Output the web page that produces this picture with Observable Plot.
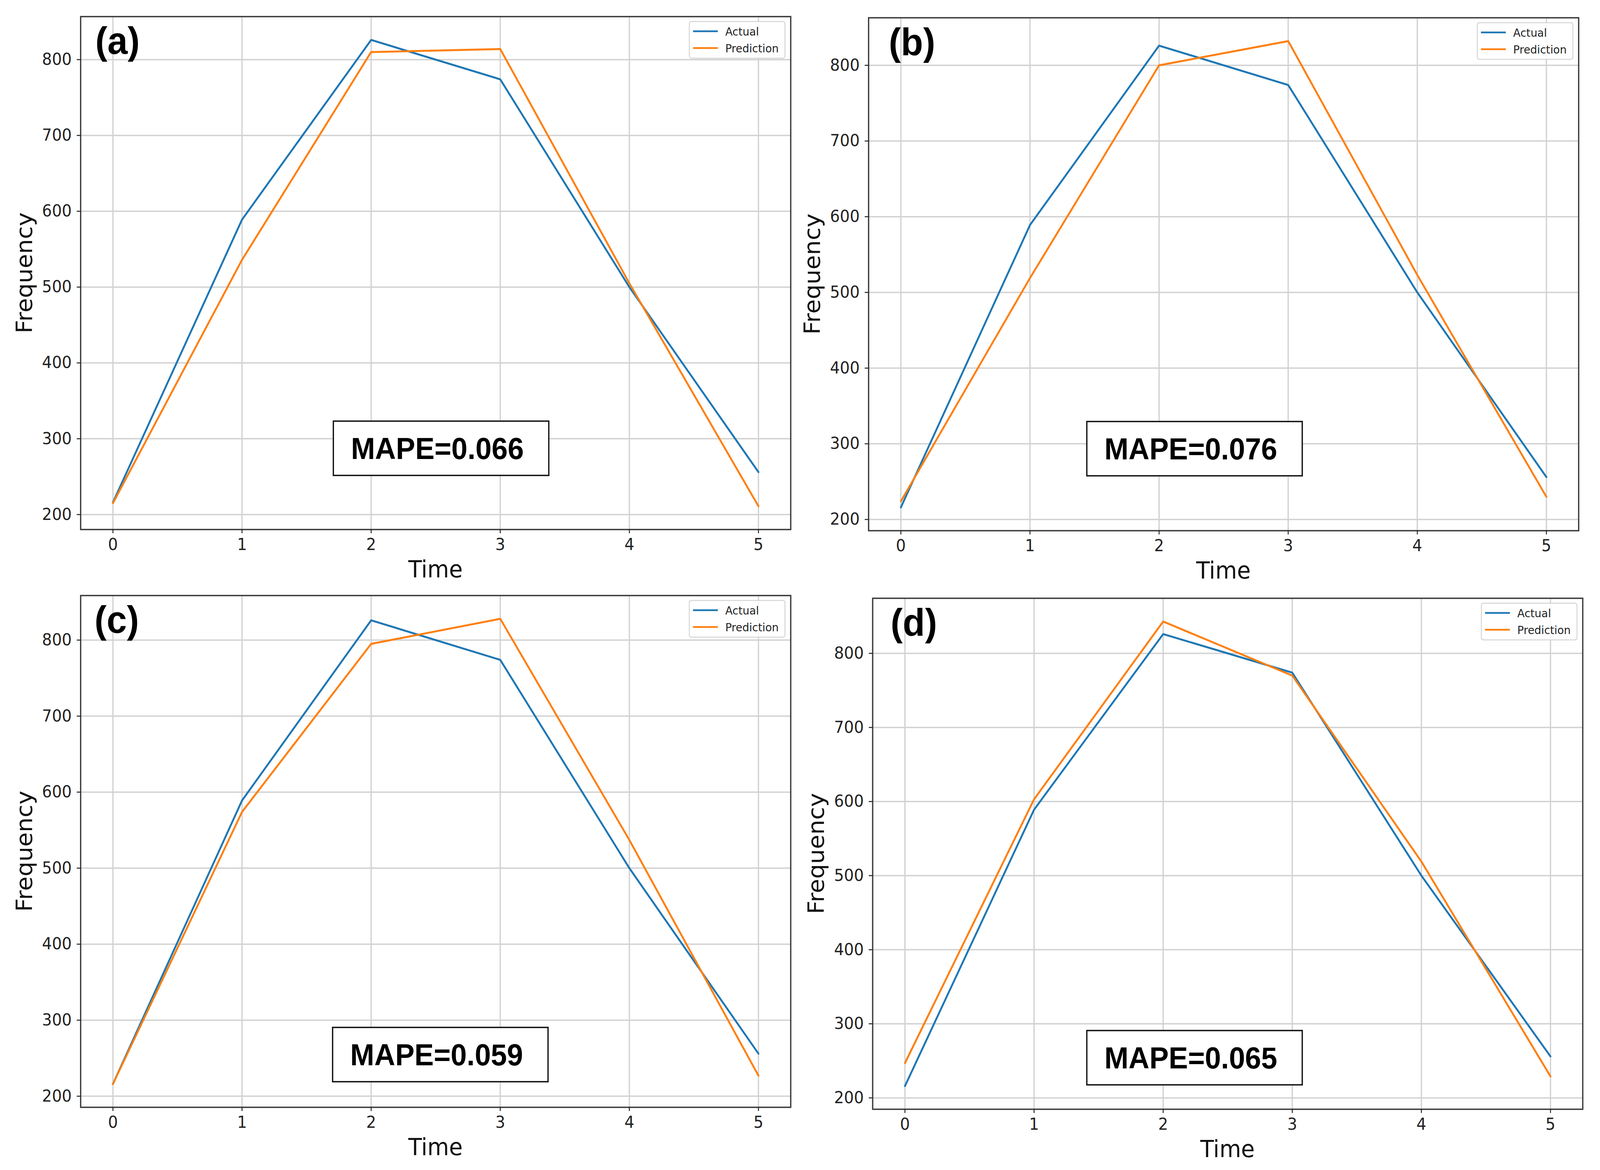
<!DOCTYPE html>
<html><head><meta charset="utf-8">
<script src="https://cdn.jsdelivr.net/npm/d3@7"></script>
<script src="https://cdn.jsdelivr.net/npm/@observablehq/plot@0.6"></script>
<style>
html,body{margin:0;padding:0;background:#fff;overflow:hidden;}
#wrap{position:absolute;left:0;top:0;width:4315px;height:2995px;background:#fff;overflow:hidden;transform-origin:0 0;}
.panel{position:absolute;}
</style></head><body><div id="wrap"></div>
<script>
// ---- data ----
const time = [0, 1, 2, 3, 4, 5];
const actual = [216, 589, 826, 774, 500, 256];
const predA = [215, 536, 810, 814, 505, 211];
const predB = [224, 519, 800, 832, 523, 230];
const predC = [216, 574, 795, 828, 537, 227];
const predD = [247, 603, 843, 770, 519, 229];
const panelLabels = ["(a)", "(b)", "(c)", "(d)"];
const mapeLabels = ["MAPE=0.066", "MAPE=0.076", "MAPE=0.059", "MAPE=0.065"];
const seriesNames = ["Actual", "Prediction"];
const xTicks = [0, 1, 2, 3, 4, 5];
const yTicks = [200, 300, 400, 500, 600, 700, 800];
const xLabel = "Time";
const yLabel = "Frequency";

const preds = [predA, predB, predC, predD];
const colors = ["#1f77b4", "#ff7f0e"];

// ---- layout (page pixels) ----
const layout = [
  {left: 0,    top: 0,    width: 2160, height: 1495, mL: 217, mR: 28, mT: 42, mB: 140, tagDx: 40, boxDx: 682, boxDy: 1036},
  {left: 2160, top: 0,    width: 2155, height: 1495, mL: 182, mR: 58, mT: 45, mB: 137, tagDx: 55, boxDx: 589, boxDy: 1034},
  {left: 0,    top: 1495, width: 2160, height: 1500, mL: 217, mR: 28, mT: 29, mB: 161, tagDx: 38, boxDx: 680, boxDy: 1106},
  {left: 2160, top: 1495, width: 2155, height: 1500, mL: 193, mR: 47, mT: 36, mB: 156, tagDx: 49, boxDx: 578, boxDy: 1107}
];

const wrap = document.getElementById("wrap");

function fit() {
  const vw = document.documentElement.clientWidth || window.innerWidth || 4315;
  const vh = document.documentElement.clientHeight || window.innerHeight || 2995;
  const sx = vw / 4315, sy = vh / 2995;
  wrap.style.transform = `scale(${sx}, ${sy})`;
}

function makePanel(i) {
  const L = layout[i];
  const pred = preds[i];
  const actRows = time.map((t, k) => ({t, v: actual[k]}));
  const predRows = time.map((t, k) => ({t, v: pred[k]}));
  const all = actual.concat(pred);
  const lo = d3.min(all), hi = d3.max(all), pad = (hi - lo) * 0.05;

  const chart = Plot.plot({
    width: L.width, height: L.height,
    marginLeft: L.mL, marginRight: L.mR, marginTop: L.mT, marginBottom: L.mB,
    style: {fontFamily: "DejaVu Sans", fontSize: "42px", color: "#222", background: "white", overflow: "visible", maxWidth: "none"},
    x: {domain: [-0.25, 5.25]},
    y: {domain: [lo - pad, hi + pad]},
    marks: [
      Plot.gridX(xTicks, {stroke: "#d2d2d2", strokeOpacity: 1, strokeWidth: 3.5}),
      Plot.gridY(yTicks, {stroke: "#d2d2d2", strokeOpacity: 1, strokeWidth: 3.5}),
      Plot.line(actRows, {x: "t", y: "v", stroke: colors[0], strokeWidth: 5}),
      Plot.line(predRows, {x: "t", y: "v", stroke: colors[1], strokeWidth: 5}),
      Plot.frame({stroke: "#3a3a3a", strokeWidth: 3.5}),
      Plot.axisX(xTicks, {tickSize: 10, tickPadding: 13, label: null, strokeWidth: 2.5, fontSize: 42, tickFormat: d3.format("d")}),
      Plot.axisY(yTicks, {tickSize: 10, tickPadding: 14, label: null, strokeWidth: 2.5, fontSize: 42, tickFormat: d3.format("d")})
    ]
  });

  const div = document.createElement("div");
  div.className = "panel";
  div.style.left = L.left + "px";
  div.style.top = L.top + "px";
  div.style.width = L.width + "px";
  div.style.height = L.height + "px";
  div.appendChild(chart);
  wrap.appendChild(div);

  const svg = d3.select(chart);
  const fx0 = L.mL, fx1 = L.width - L.mR, fy0 = L.mT, fy1 = L.height - L.mB;

  // axis titles
  svg.append("text")
    .attr("x", (fx0 + fx1) / 2).attr("y", fy1 + 123)
    .attr("text-anchor", "middle")
    .attr("font-family", "DejaVu Sans").attr("font-size", 60).attr("fill", "#111")
    .text(xLabel);
  svg.append("text")
    .attr("transform", `translate(${fx0 - 131},${(fy0 + fy1) / 2}) rotate(-90)`)
    .attr("text-anchor", "middle")
    .attr("font-family", "DejaVu Sans").attr("font-size", 60).attr("fill", "#111")
    .text(yLabel);

  // panel tag
  svg.append("text")
    .attr("x", fx0 + L.tagDx).attr("y", fy0 + 96)
    .attr("text-anchor", "start")
    .attr("font-family", "Liberation Sans, Arial, sans-serif").attr("font-weight", "bold")
    .attr("font-size", 98).attr("fill", "#000")
    .text(panelLabels[i]);

  // MAPE box
  const bx = fx0 + L.boxDx, by = fy0 + L.boxDy, bw = 581, bh = 139;
  svg.append("rect")
    .attr("x", bx).attr("y", by).attr("width", bw).attr("height", bh)
    .attr("fill", "white").attr("stroke", "#111").attr("stroke-width", 3.5);
  svg.append("text")
    .attr("x", bx + bw / 2 - 10).attr("y", by + 97)
    .attr("text-anchor", "middle")
    .attr("font-family", "Liberation Sans, Arial, sans-serif").attr("font-weight", "bold")
    .attr("font-size", 78).attr("fill", "#000")
    .text(mapeLabels[i]);

  // legend
  const lw = 258, lh = 94;
  const lx = fx1 - 15 - lw, ly = fy0 + 13;
  const g = svg.append("g");
  g.append("rect")
    .attr("x", lx).attr("y", ly).attr("width", lw).attr("height", lh).attr("rx", 6)
    .attr("fill", "white").attr("fill-opacity", 0.85)
    .attr("stroke", "#d4d4d4").attr("stroke-width", 2.5);
  seriesNames.forEach((name, k) => {
    const yy = ly + 25 + k * 43;
    g.append("line")
      .attr("x1", lx + 10).attr("x2", lx + 77).attr("y1", yy).attr("y2", yy)
      .attr("stroke", colors[k]).attr("stroke-width", 4.5);
    g.append("text")
      .attr("x", lx + 97).attr("y", yy + 11)
      .attr("text-anchor", "start")
      .attr("font-family", "DejaVu Sans").attr("font-size", 29).attr("fill", "#222")
      .text(name);
  });
}

for (let i = 0; i < 4; i++) makePanel(i);
fit();
window.addEventListener("resize", fit);
</script>
</body></html>
